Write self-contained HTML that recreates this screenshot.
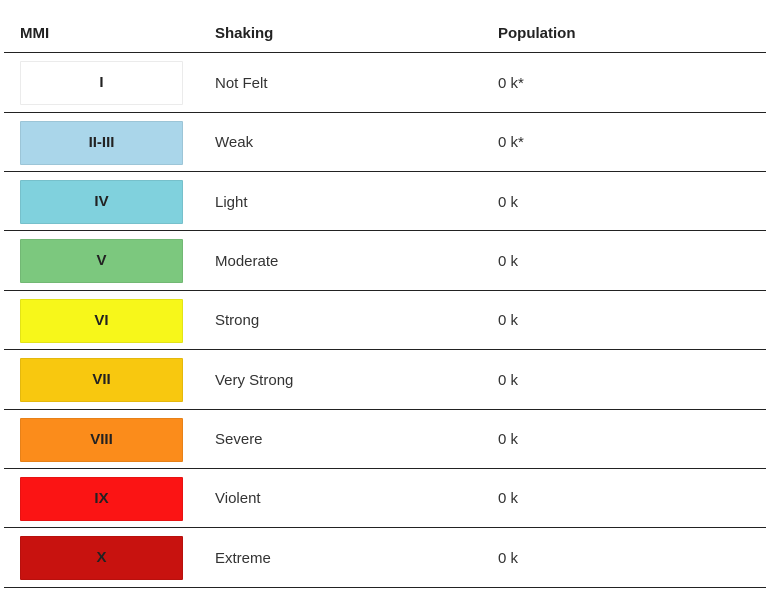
<!DOCTYPE html>
<html><head><style>
body{margin:0;background:#fff;width:771px;height:604px;position:relative;font-family:"Liberation Sans",sans-serif;color:#222;overflow:hidden}
.h{position:absolute;top:25px;font-weight:bold;font-size:15px}
.l{position:absolute;left:4px;width:762px;height:1px;background:#222}
.b{position:absolute;left:20px;width:161px;height:42px;border:1px solid rgba(0,0,0,0.08);border-radius:1px;text-align:center;line-height:42px;font-weight:bold;font-size:15px;color:#222}
.t{position:absolute;font-size:15px;color:#333;margin-top:2px}
</style></head><body>
<div class="h" style="left:20px">MMI</div>
<div class="h" style="left:215px">Shaking</div>
<div class="h" style="left:498px">Population</div>
<div class="l" style="top:52px"></div>
<div class="b" style="top:61px;background:#fff">I</div><div class="t" style="left:215px;top:73px">Not Felt</div><div class="t" style="left:498px;top:73px">0 k*</div>
<div class="l" style="top:112px"></div>
<div class="b" style="top:121px;background:#aad6ea">II-III</div><div class="t" style="left:215px;top:132px">Weak</div><div class="t" style="left:498px;top:132px">0 k*</div>
<div class="l" style="top:171px"></div>
<div class="b" style="top:180px;background:#80d1dd">IV</div><div class="t" style="left:215px;top:192px">Light</div><div class="t" style="left:498px;top:192px">0 k</div>
<div class="l" style="top:230px"></div>
<div class="b" style="top:239px;background:#7cc87e">V</div><div class="t" style="left:215px;top:251px">Moderate</div><div class="t" style="left:498px;top:251px">0 k</div>
<div class="l" style="top:290px"></div>
<div class="b" style="top:299px;background:#f7f71a">VI</div><div class="t" style="left:215px;top:310px">Strong</div><div class="t" style="left:498px;top:310px">0 k</div>
<div class="l" style="top:349px"></div>
<div class="b" style="top:358px;background:#f8c80f">VII</div><div class="t" style="left:215px;top:370px">Very Strong</div><div class="t" style="left:498px;top:370px">0 k</div>
<div class="l" style="top:409px"></div>
<div class="b" style="top:418px;background:#fb8c1b">VIII</div><div class="t" style="left:215px;top:429px">Severe</div><div class="t" style="left:498px;top:429px">0 k</div>
<div class="l" style="top:468px"></div>
<div class="b" style="top:477px;background:#fb1414">IX</div><div class="t" style="left:215px;top:488px">Violent</div><div class="t" style="left:498px;top:488px">0 k</div>
<div class="l" style="top:527px"></div>
<div class="b" style="top:536px;background:#c8120f">X</div><div class="t" style="left:215px;top:548px">Extreme</div><div class="t" style="left:498px;top:548px">0 k</div>
<div class="l" style="top:587px"></div>
</body></html>
